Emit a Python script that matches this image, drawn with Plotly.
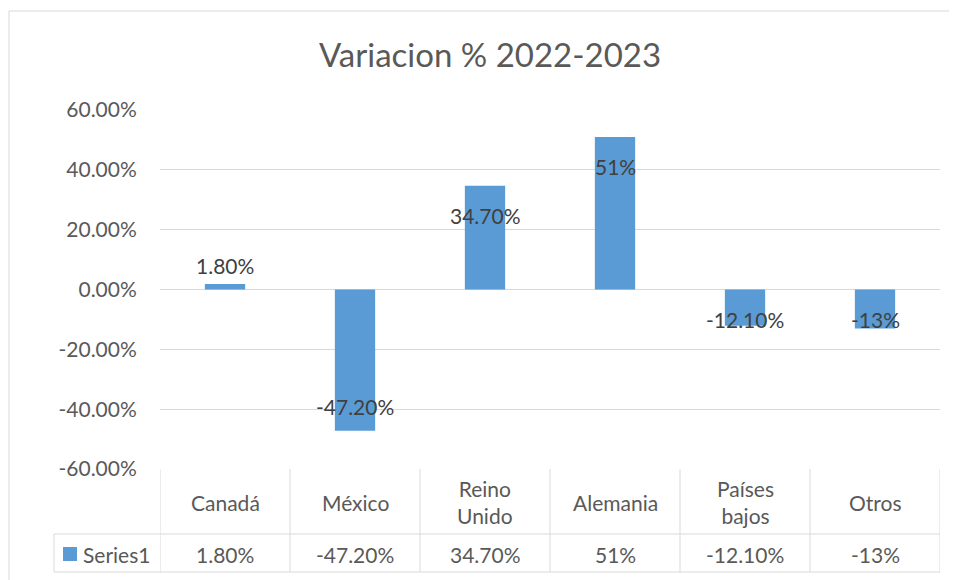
import plotly.graph_objects as go

categories = ["Canadá", "México", "Reino<br>Unido", "Alemania", "Países<br>bajos", "Otros"]
values = [0.018, -0.472, 0.347, 0.51, -0.121, -0.13]
value_labels = ["1.80%", "-47.20%", "34.70%", "51%", "-12.10%", "-13%"]
label_y = [0.081, -0.39, 0.248, 0.41, -0.101, -0.101]
tick_vals = [-0.6, -0.4, -0.2, 0.0, 0.2, 0.4, 0.6]
tick_text = ["-60.00%", "-40.00%", "-20.00%", "0.00%", "20.00%", "40.00%", "60.00%"]
series_name = "Series1"

OFF = 8  # page body margin in the browser
W, H = 957 - OFF, 580 - OFF
L, R, T, B = 160 - OFF, 940 - OFF, 110 - OFF, 469 - OFF  # plot area in figure pixels
pw, ph = R - L, B - T

def px_x(p):
    return (p - OFF - L) / pw

def px_y(p):
    return (B - (p - OFF)) / ph

FONT = "Lato"
GRID = "#d9d9d9"
BAR = "#5b9bd5"
TXT = "#595959"
FS = 21

x_idx = list(range(len(categories)))

fig = go.Figure()
fig.add_trace(go.Bar(x=x_idx, y=values, width=0.31, marker=dict(color=BAR, line=dict(width=0)),
                     name=series_name, showlegend=False, hoverinfo="skip"))

annotations = []
for i, (t, ly) in enumerate(zip(value_labels, label_y)):
    annotations.append(dict(x=i, y=ly, xref="x", yref="y", text=t, showarrow=False,
                            font=dict(family=FONT, size=FS, color="#404040"),
                            xanchor="center", yanchor="middle"))
for i, c in enumerate(categories):
    annotations.append(dict(x=i, y=px_y(502), xref="x", yref="paper", text=c, showarrow=False,
                            font=dict(family=FONT, size=FS, color=TXT),
                            xanchor="center", yanchor="middle", align="center"))
    annotations.append(dict(x=i, y=px_y(554), xref="x", yref="paper", text=value_labels[i], showarrow=False,
                            font=dict(family=FONT, size=FS, color=TXT),
                            xanchor="center", yanchor="middle"))
annotations.append(dict(x=px_x(81), y=px_y(554), xref="paper", yref="paper", text=series_name, showarrow=False,
                        font=dict(family=FONT, size=FS, color=TXT), xanchor="left", yanchor="middle"))

shapes = []
line = dict(color=GRID, width=1)
# outer chart border (top and left edges visible)
shapes.append(dict(type="line", xref="paper", yref="paper", x0=px_x(9), x1=px_x(1000), y0=px_y(11), y1=px_y(11), line=line))
shapes.append(dict(type="line", xref="paper", yref="paper", x0=px_x(9), x1=px_x(9), y0=px_y(620), y1=px_y(11), line=line))
# data table grid
shapes.append(dict(type="line", xref="paper", yref="paper", x0=px_x(54), x1=1, y0=px_y(534), y1=px_y(534), line=line))
shapes.append(dict(type="line", xref="paper", yref="paper", x0=px_x(54), x1=1, y0=px_y(572), y1=px_y(572), line=line))
for k in range(len(categories) + 1):
    shapes.append(dict(type="line", xref="x", yref="paper", x0=k - 0.5, x1=k - 0.5, y0=px_y(572), y1=0, line=line))
shapes.append(dict(type="line", xref="paper", yref="paper", x0=px_x(54), x1=px_x(54), y0=px_y(572), y1=px_y(534), line=line))
# legend key
shapes.append(dict(type="rect", xref="paper", yref="paper", x0=px_x(63), x1=px_x(77), y0=px_y(561), y1=px_y(547),
                   fillcolor=BAR, line=dict(width=0)))

fig.update_layout(
    width=W, height=H,
    margin=dict(l=L, r=W - R, t=T, b=H - B, pad=0),
    paper_bgcolor="white", plot_bgcolor="white",
    title=dict(text="Variacion % 2022-2023", x=(490 - OFF) / W, xref="container", xanchor="center",
               y=1 - (55 - OFF) / H, yref="container", yanchor="middle",
               font=dict(family=FONT, size=33, color=TXT)),
    annotations=annotations,
    shapes=shapes,
    showlegend=False,
)
fig.update_xaxes(range=[-0.5, len(categories) - 0.5], showticklabels=False, showgrid=False,
                 zeroline=False, showline=False, fixedrange=True)
fig.update_yaxes(range=[-0.6, 0.6], tickvals=tick_vals, ticktext=tick_text, showgrid=True, gridcolor=GRID,
                 gridwidth=1, zeroline=True, zerolinecolor=GRID, zerolinewidth=1, showline=False,
                 ticks="outside", ticklen=18, tickcolor="rgba(0,0,0,0)",
                 tickfont=dict(family=FONT, size=FS, color=TXT), fixedrange=True)

fig.write_html("out.html", config={"displayModeBar": False},
               post_script="document.documentElement.style.overflow='hidden';document.body.style.overflow='hidden';")
